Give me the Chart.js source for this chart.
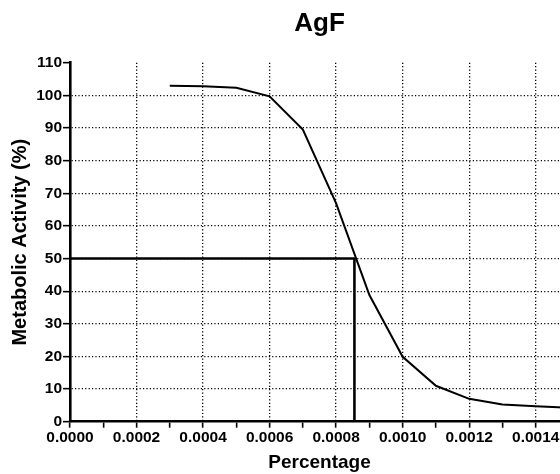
<!DOCTYPE html>
<html>
<head>
<meta charset="utf-8">
<title>AgF</title>
<script src="https://cdn.jsdelivr.net/npm/chart.js@4/dist/chart.umd.min.js"></script>
<style>
    html, body { margin: 0; padding: 0; background: #fff; overflow: hidden; }
    #agfChart { display: block; }
</style>
</head>
<body>
<!-- the plot runs a bit past the 560px window, like the original crop -->
<canvas id="agfChart" width="570" height="474"></canvas>
<script>
// Dados
const percentage = [0.0003, 0.0004, 0.0005, 0.0006, 0.0007, 0.0008, 0.0009, 0.0010, 0.0011, 0.0012, 0.0013, 0.0014, 0.0015];
const metabolicActivity = [102.9, 102.8, 102.3, 99.7, 89.5, 66.9, 38.8, 19.9, 11.0, 7.0, 5.3, 4.7, 4.3];

// Linha do IC50 (50% de atividade)
const ic50X = [0, 0.000855, 0.000855];
const ic50Y = [50, 50, 0];

const yTicks = [0, 10, 20, 30, 40, 50, 60, 70, 80, 90, 100, 110];

const FONT = "'Liberation Sans', Arial, Helvetica, sans-serif";
const INK = '#000';
const DOTS = [1.2, 2.2];

function toPoints(xs, ys) {
    return xs.map((x, i) => ({ x: x, y: ys[i] }));
}

// major x tick = every 0.0002
function isMajorX(value) {
    return Math.round(value / 0.0001) % 2 === 0;
}

const ctx = document.getElementById('agfChart').getContext('2d');

new Chart(ctx, {
    type: 'scatter',
    data: {
        datasets: [
            {
                label: 'AgF',
                data: toPoints(percentage, metabolicActivity),
                showLine: true,
                borderColor: INK,
                borderWidth: 2,
                pointRadius: 0,
                tension: 0
            },
            {
                label: 'IC50',
                data: toPoints(ic50X, ic50Y),
                showLine: true,
                borderColor: INK,
                borderWidth: 2.6,
                pointRadius: 0,
                tension: 0
            }
        ]
    },
    options: {
        responsive: false,
        animation: false,
        layout: { padding: 0 },
        plugins: {
            legend: { display: false },
            tooltip: { enabled: false },
            title: {
                display: true,
                text: 'AgF',
                fullSize: false,
                color: INK,
                font: { family: FONT, size: 26, weight: 'bold' },
                padding: { top: 8.7, bottom: 22.8 }
            }
        },
        scales: {
            x: {
                type: 'linear',
                min: 0,
                max: 0.0015,
                afterFit: scale => { scale.height = 52.3; },
                border: { display: true, color: INK, width: 2.6, dash: DOTS },
                grid: {
                    lineWidth: 1.3,
                    tickLength: 6,
                    tickWidth: 1.6,
                    tickColor: INK,
                    tickBorderDash: [],
                    color: c => (c.tick && c.tick.value > 0 && isMajorX(c.tick.value)) ? '#000' : 'rgba(0,0,0,0)'
                },
                ticks: {
                    stepSize: 0.0001,
                    autoSkip: false,
                    maxRotation: 0,
                    padding: 1,
                    color: INK,
                    font: { family: FONT, size: 15.5, weight: 'bold' },
                    callback: value => isMajorX(value) ? value.toFixed(4) : ''
                },
                title: {
                    display: true,
                    text: 'Percentage',
                    color: INK,
                    font: { family: FONT, size: 19, weight: 'bold' },
                    padding: { top: 0, bottom: 0 }
                }
            },
            y: {
                min: 0,
                max: 110,
                afterFit: scale => { scale.width = 70; },
                afterBuildTicks: scale => {
                    scale.ticks = yTicks.map(v => ({ value: v }));
                },
                border: { display: true, color: INK, width: 2.6, dash: DOTS },
                grid: {
                    lineWidth: 1.3,
                    tickLength: 7,
                    tickWidth: 1.6,
                    tickColor: INK,
                    tickBorderDash: [],
                    color: c => (c.tick && c.tick.value > 0 && c.tick.value < 110) ? '#000' : 'rgba(0,0,0,0)'
                },
                ticks: {
                    padding: 1,
                    color: INK,
                    font: { family: FONT, size: 15.5, weight: 'bold' }
                },
                title: {
                    display: true,
                    text: 'Metabolic Activity (%)',
                    color: INK,
                    font: { family: FONT, size: 20, weight: 'bold' },
                    padding: { top: 8.3, bottom: 0 }
                }
            }
        }
    }
});
</script>
</body>
</html>
